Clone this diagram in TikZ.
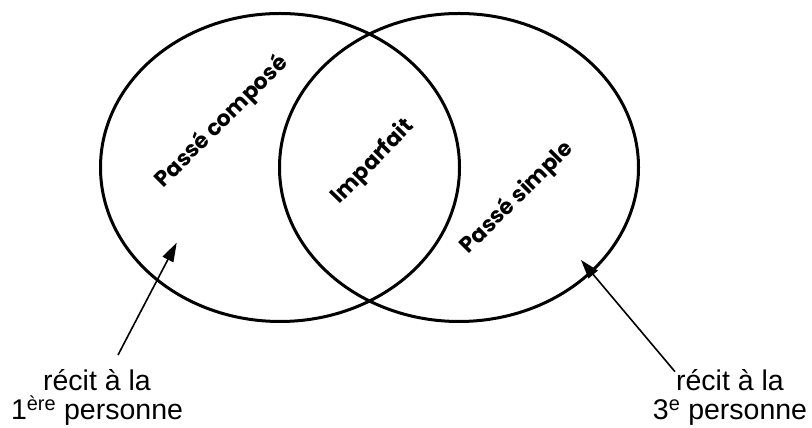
\documentclass[tikz,border=0pt]{standalone}
\usepackage{fontspec}
\setmainfont{Liberation Sans}
\newfontfamily\comicfont{Poppins}
\usetikzlibrary{arrows.meta,shapes.geometric}
\tikzset{
  venn/.style={draw=black, line width=3pt, ellipse, minimum width=359pt, minimum height=308pt, inner sep=0pt},
  tense/.style={font=\comicfont\bfseries\fontsize{22}{25}\selectfont, inner sep=0pt, rotate=45},
  caption/.style={font=\fontsize{28.5}{29}\selectfont, inner sep=0pt, anchor=base},
  pointer/.style={line width=1.6pt, -{Triangle[length=19pt,width=12pt]}}
}
\begin{document}
\begin{tikzpicture}[x=1pt,y=1pt]
\useasboundingbox (0,0) rectangle (812,428);
% ellipses
\node[venn] (left) at (280,260.5) {};
\node[venn] (right) at (459,260.5) {};
% tense labels
\node[tense] (pc) at (222,306) {Passé\ composé};
\node[tense, rotate=1] (imp) at (373,266) {Imparfait};
\node[tense] (ps) at (517,230) {Passé\ simple};
% captions
\node[caption] (l1) at (97,37) {récit à la};
\node[caption] (l2) at (97,8) {1\textsuperscript{ère} personne};
\node[caption] (r1) at (730,37) {récit à la};
\node[caption] (r2) at (730,8) {3\textsuperscript{e} personne};
% arrows
\coordinate (ltail) at (118,73);
\coordinate (ltip) at (176.7,185.3);
\coordinate (rtail) at (675,56.3);
\coordinate (rtip) at (581,168);
\draw[pointer] (ltail) -- (ltip);
\draw[pointer] (rtail) -- (rtip);
\end{tikzpicture}
\end{document}
